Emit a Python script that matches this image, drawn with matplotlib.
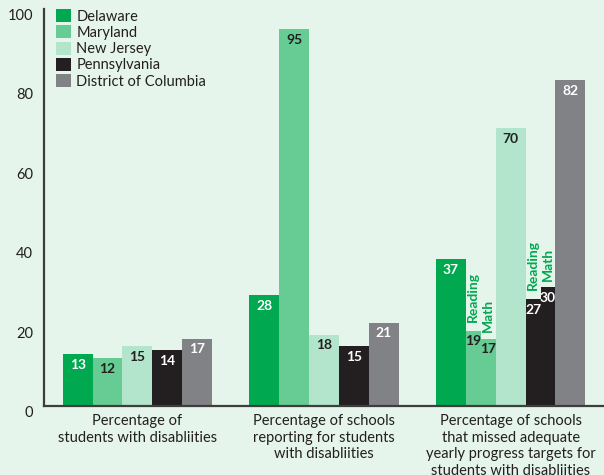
import matplotlib.pyplot as plt
import matplotlib.transforms as mtransforms
import numpy as np
from matplotlib.patches import Patch

# Figures per state / measure
states = ['Delaware', 'Maryland', 'New Jersey', 'Pennsylvania', 'District of Columbia']
colors = ['#00a94f', '#66cc93', '#b2e5cb', '#231f20', '#808285']
label_colors = ['white', '#231f20', '#231f20', 'white', 'white']
categories = ['Percentage of\nstudents with disabliities',
              'Percentage of schools\nreporting for students\nwith disabliities',
              'Percentage of schools\nthat missed adequate\nyearly progress targets for\nstudents with disabliities']

students_pct = [13, 12, 15, 14, 17]
reporting_pct = [28, 95, 18, 15, 21]
# missed AYP: Maryland and Pennsylvania are split into reading / math
missed_ayp = [37, None, 70, None, 82]
split_reading = {1: 19, 3: 27}
split_math = {1: 17, 3: 30}

bg = '#e5f5eb'
ink = '#231f20'
plt.rcParams['font.family'] = ['Lato', 'DejaVu Sans']

fig = plt.figure(figsize=(6.04, 4.75), dpi=100, facecolor=bg)
ax = fig.add_axes([44 / 604, 1 - 406 / 475, 1 - 44 / 604, (406 - 9) / 475])
ax.set_facecolor(bg)

w = 0.16
offsets = (np.arange(5) - 2) * w


def value_label(x, v, color):
    ax.annotate(f'{v}', (x, v), xytext=(0, -3.5), textcoords='offset points',
                ha='center', va='top', fontsize=10, fontweight='bold', color=color)


for gi, vals in enumerate([students_pct, reporting_pct]):
    for i, v in enumerate(vals):
        ax.bar(gi + offsets[i], v, width=w, color=colors[i], linewidth=0)
        value_label(gi + offsets[i], v, label_colors[i])

for i, v in enumerate(missed_ayp):
    x = 2 + offsets[i]
    if v is not None:
        ax.bar(x, v, width=w, color=colors[i], linewidth=0)
        value_label(x, v, label_colors[i])
    else:
        for sub, val, name in [(-w / 4, split_reading[i], 'Reading'),
                               (w / 4, split_math[i], 'Math')]:
            ax.bar(x + sub, val, width=w / 2, color=colors[i], linewidth=0)
            value_label(x + sub, val, label_colors[i])
            gap = 6 if name == 'Reading' else 4.5
            ax.annotate(name, (x + sub, val), xytext=(0, gap), textcoords='offset points',
                        rotation=90, ha='center', va='bottom', fontsize=10,
                        fontweight='bold', color=colors[0])

ax.set_xlim(-0.5, 2.5)
ax.set_ylim(0, 100)
ax.set_yticks(range(0, 101, 20))
ax.set_xticks(range(3))
ax.set_xticklabels(categories, fontsize=10.5, color='#333333', linespacing=1.22)
ax.tick_params(length=0, colors=ink, labelsize=10.5)
ax.tick_params(axis='y', pad=8)
ax.tick_params(axis='x', pad=6)
shift = mtransforms.ScaledTranslation(0, -4 / 72, fig.dpi_scale_trans)
for lab in ax.get_yticklabels():
    lab.set_transform(lab.get_transform() + shift)

for side in ['top', 'right']:
    ax.spines[side].set_visible(False)
for side in ['left', 'bottom']:
    ax.spines[side].set_color('#3d3d3d')
    ax.spines[side].set_linewidth(1.6)

handles = [Patch(facecolor=c, edgecolor='none') for c in colors]
fig.legend(handles, states, loc='upper left', bbox_to_anchor=(56 / 604, 1 - 9 / 475),
           frameon=False, fontsize=10.5, handlelength=1.0, handleheight=1.0,
           handletextpad=0.4, labelspacing=0.12, borderpad=0, borderaxespad=0,
           labelcolor=ink)

fig.savefig('out.png', dpi=100, facecolor=bg)
